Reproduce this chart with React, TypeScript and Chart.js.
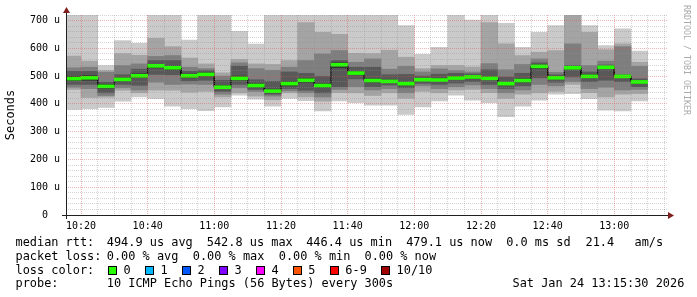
import React, { useEffect, useRef } from 'react';
import { Chart, registerables } from 'chart.js';

Chart.register(...registerables);

// ---------------- data ----------------
// end time of every 5-minute step (the smoke bar covers the 5 minutes before it)
const slotEnds = [
  '10:20', '10:25', '10:30', '10:35', '10:40', '10:45', '10:50', '10:55',
  '11:00', '11:05', '11:10', '11:15', '11:20', '11:25', '11:30', '11:35',
  '11:40', '11:45', '11:50', '11:55', '12:00', '12:05', '12:10', '12:15',
  '12:20', '12:25', '12:30', '12:35', '12:40', '12:45', '12:50', '12:55',
  '13:00', '13:05', '13:10',
];

// sorted ping round-trip times per step (microseconds); 720 = clipped at the top
const ping1 = [380, 383, 387, 410, 425, 419, 392, 383, 376, 389, 431, 417, 392, 420, 412, 375, 411, 404, 395, 395, 362, 389, 411, 431, 413, 404, 354, 392, 413, 435, 437, 419, 377, 375, 411];
const ping2 = [452, 423, 424, 449, 440, 449, 449, 442, 445, 425, 440, 428, 415, 440, 425, 410, 440, 440, 430, 440, 420, 445, 440, 450, 452, 440, 420, 435, 440, 445, 470, 440, 425, 435, 437];
const ping3 = [460, 455, 430, 458, 450, 478, 470, 471, 470, 435, 458, 445, 428, 447, 440, 425, 452, 462, 450, 455, 440, 465, 455, 462, 468, 455, 440, 450, 470, 465, 480, 455, 460, 450, 452];
const ping4 = [470, 470, 440, 470, 467, 506, 505, 483, 485, 445, 470, 452, 435, 455, 449, 440, 462, 490, 462, 468, 458, 474, 470, 475, 480, 470, 455, 465, 494, 478, 497, 480, 485, 480, 462];
const ping5 = [484, 485, 456, 482, 495, 530, 522, 494, 500, 455, 486, 460, 440, 465, 478, 460, 530, 505, 478, 477, 468, 483, 480, 488, 492, 487, 468, 478, 528, 490, 525, 494, 528, 496, 475];
const ping6 = [499, 502, 470, 493, 508, 542, 536, 507, 512, 466, 500, 472, 453, 480, 492, 472, 548, 517, 490, 487, 478, 492, 492, 498, 502, 497, 478, 490, 540, 498, 535, 505, 536, 502, 483];
const ping7 = [517, 517, 478, 505, 525, 556, 556, 517, 520, 485, 536, 487, 481, 515, 510, 499, 556, 532, 532, 505, 506, 500, 507, 510, 508, 523, 497, 510, 548, 505, 538, 515, 540, 505, 490];
const ping8 = [530, 532, 514, 538, 544, 571, 574, 532, 527, 500, 548, 527, 521, 532, 556, 580, 592, 550, 562, 525, 535, 515, 526, 520, 515, 545, 523, 542, 562, 514, 616, 538, 554, 606, 535];
const ping9 = [572, 554, 520, 581, 575, 636, 606, 565, 544, 512, 560, 544, 542, 556, 693, 658, 650, 582, 581, 593, 568, 527, 538, 538, 533, 693, 616, 574, 586, 592, 720, 658, 595, 616, 550];
const ping10 = [720, 720, 538, 628, 618, 720, 720, 630, 720, 720, 661, 615, 720, 720, 720, 720, 720, 720, 720, 720, 682, 578, 604, 720, 702, 720, 690, 604, 658, 682, 720, 682, 610, 670, 590];

// median rtt per step (microseconds), 0 % loss everywhere
const medianRtt = [491, 494, 463, 488, 501, 537, 530, 501, 506, 460, 492, 466, 446, 473, 485, 466, 541, 511, 484, 481, 473, 487, 486, 493, 497, 492, 473, 484, 535, 494, 530, 499, 532, 499, 479];

const viewStart = '10:15:30';
const viewEnd = '13:15:30';
const xTickLabels = ['10:20', '10:40', '11:00', '11:20', '11:40', '12:00', '12:20', '12:40', '13:00'];
const yTickValues = [0, 100, 200, 300, 400, 500, 600, 700];
const yTickLabels = ['0  ', '100 u', '200 u', '300 u', '400 u', '500 u', '600 u', '700 u'];
const yMax = 720;

const legendMedian = ['median rtt:', '494.9 us avg', '542.8 us max', '446.4 us min', '479.1 us now', '0.0 ms sd', '21.4', 'am/s'];
const legendLoss = ['packet loss:', '0.00 % avg', '0.00 % max', '0.00 % min', '0.00 % now'];
const lossLabels = ['0', '1', '2', '3', '4', '5', '6-9', '10/10'];
const lossColors = ['#26ff00', '#00b8ff', '#0059ff', '#7e00ff', '#ff00ff', '#ff5500', '#ff0000', '#a10000'];
const probeText = ['probe:', '10 ICMP Echo Pings (56 Bytes) every 300s'];
const stampText = 'Sat Jan 24 13:15:30 2026';

// ---------------- layout / style ----------------
const W = 697;
const H = 297;
const MONO = '"DejaVu Sans Mono", monospace';
const smokeColors = ['#cacaca', '#a4a4a4', '#7e7e7e', '#585858', '#323232'];
const MINOR = 'rgba(143,143,143,0.38)';
const MAJOR = 'rgba(222,79,79,0.42)';
const AXIS = '#202020';
const ARROW = 'rgb(128,31,31)';

const toMin = (s: string) => {
  const [h, m, sec] = s.split(':').map(Number);
  return h * 60 + m + (sec || 0) / 60 - 600;
};
const fmtMin = (v: number) => {
  const t = Math.round(v) + 600;
  return `${Math.floor(t / 60)}:${String(t % 60).padStart(2, '0')}`;
};

const pings = [ping1, ping2, ping3, ping4, ping5, ping6, ping7, ping8, ping9, ping10];

const rrdPlugin = {
  id: 'rrdGrid',
  afterDatasetsDraw(chart: any) {
    const { ctx, chartArea: a, scales } = chart;
    const xs = scales.x;
    const ys = scales.y;
    ctx.save();
    ctx.lineWidth = 1;
    ctx.setLineDash([1, 1]);
    const hline = (v: number, c: string) => {
      const py = Math.floor(ys.getPixelForValue(v)) + 0.5;
      ctx.strokeStyle = c;
      ctx.beginPath();
      ctx.moveTo(a.left, py);
      ctx.lineTo(a.right + 2, py);
      ctx.stroke();
    };
    const vline = (t: number, c: string) => {
      const px = Math.floor(xs.getPixelForValue(t)) + 0.5;
      ctx.strokeStyle = c;
      ctx.beginPath();
      ctx.moveTo(px, a.top);
      ctx.lineTo(px, a.bottom);
      ctx.stroke();
    };
    for (let v = 20; v <= ys.max; v += 20) if (v % 100) hline(v, MINOR);
    for (let t = Math.ceil(xs.min / 5) * 5; t <= xs.max; t += 5) if (t % 20) vline(t, MINOR);
    for (let v = 100; v <= ys.max; v += 100) hline(v, MAJOR);
    for (let t = Math.ceil(xs.min / 20) * 20; t <= xs.max; t += 20) vline(t, MAJOR);
    ctx.setLineDash([]);
    // axes
    ctx.strokeStyle = AXIS;
    const by = a.bottom + 0.5;
    const lx = a.left + 0.5;
    ctx.beginPath();
    ctx.moveTo(a.left - 4, by);
    ctx.lineTo(a.right + 4, by);
    ctx.moveTo(lx, a.bottom + 4);
    ctx.lineTo(lx, a.top - 4);
    ctx.stroke();
    ctx.fillStyle = ARROW;
    ctx.beginPath();
    ctx.moveTo(a.right + 2, by - 3.5);
    ctx.lineTo(a.right + 2, by + 3.5);
    ctx.lineTo(a.right + 8, by);
    ctx.closePath();
    ctx.fill();
    ctx.beginPath();
    ctx.moveTo(lx - 3.5, a.top - 2);
    ctx.lineTo(lx + 3.5, a.top - 2);
    ctx.lineTo(lx, a.top - 8);
    ctx.closePath();
    ctx.fill();
    ctx.restore();
  },
};

function buildConfig(): any {
  const centers = slotEnds.map((e) => toMin(e) - 2.5);
  const barBase = {
    type: 'bar',
    borderWidth: 0,
    grouped: false,
    barPercentage: 1,
    categoryPercentage: 1,
    clip: 0,
  };
  const smoke = smokeColors.map((c, k) => ({
    ...barBase,
    label: `smoke${k + 1}`,
    data: centers.map((x, i) => ({ x, y: [pings[k][i], pings[9 - k][i]] })),
    backgroundColor: c,
    order: 6 - k,
  }));
  const medianBars = {
    ...barBase,
    label: 'median',
    data: centers.map((x, i) => ({ x, y: [medianRtt[i] - 5.4, medianRtt[i] + 5.4] })),
    backgroundColor: lossColors[0],
    order: 0,
  };
  const stepLine = {
    type: 'line',
    label: 'median step',
    data: slotEnds.flatMap((e, i) => [
      { x: toMin(e) - 5, y: medianRtt[i] },
      { x: toMin(e), y: medianRtt[i] },
    ]),
    borderColor: '#000',
    borderWidth: 1,
    pointRadius: 0,
    tension: 0,
    clip: 0,
    order: 1,
  };
  return {
    type: 'bar',
    data: { datasets: [medianBars, stepLine, ...smoke] },
    plugins: [rrdPlugin],
    options: {
      animation: false,
      responsive: false,
      devicePixelRatio: 1,
      events: [],
      layout: { padding: { top: 15, right: 31, left: 0, bottom: 0 } },
      plugins: { legend: { display: false }, tooltip: { enabled: false } },
      scales: {
        x: {
          type: 'linear',
          min: toMin(viewStart),
          max: toMin(viewEnd),
          offset: false,
          grid: { display: false, drawTicks: false },
          border: { display: false },
          afterBuildTicks: (s: any) => {
            s.ticks = xTickLabels.map((l) => ({ value: toMin(l) }));
          },
          afterFit: (s: any) => {
            s.height = 82;
          },
          ticks: {
            autoSkip: false,
            maxRotation: 0,
            padding: 5,
            color: '#000',
            font: { family: MONO, size: 10 },
            callback: (v: number) => fmtMin(v),
          },
        },
        y: {
          type: 'linear',
          min: 0,
          max: yMax,
          grid: { display: false, drawTicks: false },
          border: { display: false },
          afterBuildTicks: (s: any) => {
            s.ticks = yTickValues.map((v) => ({ value: v }));
          },
          afterFit: (s: any) => {
            s.width = 66;
          },
          title: {
            display: true,
            text: 'Seconds',
            color: '#000',
            font: { family: MONO, size: 12 },
            padding: { top: 4, bottom: 0 },
          },
          ticks: {
            autoSkip: false,
            padding: 6,
            color: '#000',
            font: { family: MONO, size: 10 },
            callback: (v: number) => yTickLabels[yTickValues.indexOf(v)] ?? '',
          },
        },
      },
    },
  };
}

const baselines = [245.8, 259.7, 273.6, 287.5];
const medianX = [16, 107.3, 207.3, 306.7, 406.7, 506.7, 586, 635];
const lossX = [16, 107.3, 193.3, 279.3, 365];
const probeX = [16, 107.3];
const stampX = 513;

const txt = (s: string, x: number, line: number, key: string) => (
  <span
    key={key}
    style={{
      position: 'absolute',
      left: x - 0.5,
      top: baselines[line] - 11.1,
      font: `11.9px ${MONO}`,
      lineHeight: '14px',
      whiteSpace: 'pre',
      color: '#000',
    }}
  >
    {s}
  </span>
);

export default function App() {
  const ref = useRef<HTMLCanvasElement>(null);
  useEffect(() => {
    const chart = new Chart(ref.current as HTMLCanvasElement, buildConfig());
    return () => chart.destroy();
  }, []);
  return (
    <div style={{ position: 'absolute', left: 0, top: 0, width: W, height: H, background: '#fff', overflow: 'hidden' }}>
      <canvas ref={ref} width={W} height={H} style={{ position: 'absolute', left: 0, top: 0, width: W, height: H }} />
      <div
        style={{
          position: 'absolute',
          left: 683,
          top: 5,
          writingMode: 'vertical-rl',
          font: `8.3px ${MONO}`,
          lineHeight: '8px',
          color: '#aaaaaa',
          whiteSpace: 'pre',
        }}
      >
        RRDTOOL / TOBI OETIKER
      </div>
      {legendMedian.map((s, i) => txt(s, medianX[i], 0, `m${i}`))}
      {legendLoss.map((s, i) => txt(s, lossX[i], 1, `l${i}`))}
      {txt('loss color:', 16, 2, 'lc')}
      <div
        style={{
          position: 'absolute',
          left: 108,
          top: baselines[2] - 11.1,
          display: 'flex',
          alignItems: 'center',
          height: 14,
          font: `11.9px ${MONO}`,
          lineHeight: '14px',
          whiteSpace: 'pre',
        }}
      >
        {lossLabels.map((l, i) => (
          <span key={l} style={{ display: 'flex', alignItems: 'center', marginRight: 14.3 }}>
            <span
              style={{
                display: 'inline-block',
                width: 9,
                height: 9,
                boxSizing: 'border-box',
                border: '1px solid #000',
                background: lossColors[i],
                marginRight: 6.5,
                position: 'relative',
                top: 1,
              }}
            />
            <span>{l}</span>
          </span>
        ))}
      </div>
      {probeText.map((s, i) => txt(s, probeX[i], 3, `p${i}`))}
      {txt(stampText, stampX, 3, 'stamp')}
    </div>
  );
}
